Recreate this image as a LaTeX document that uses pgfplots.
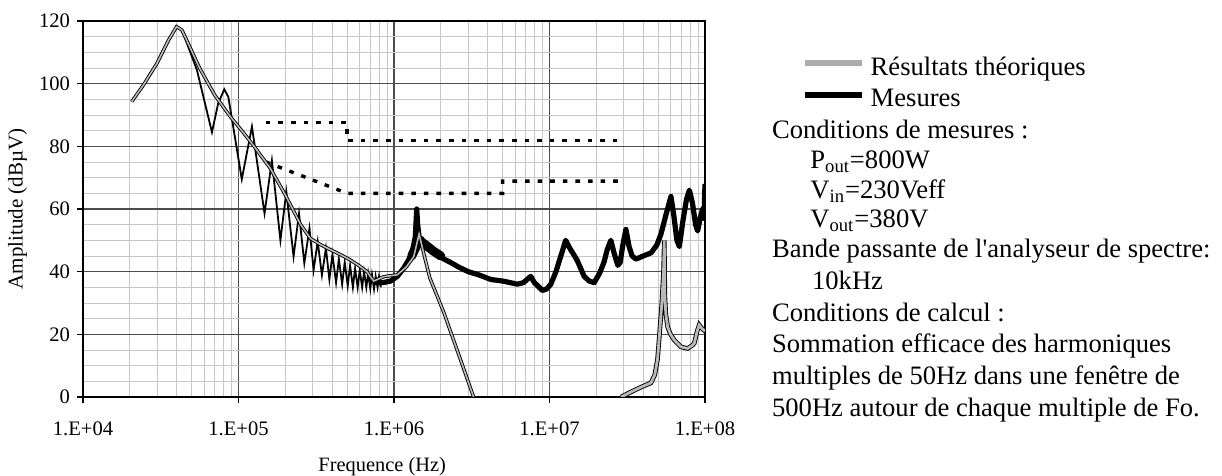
\documentclass[border=0pt]{standalone}
\usepackage{pgfplots}
\pgfplotsset{compat=1.18}
\usepackage{fontspec}
\setmainfont{Liberation Serif}
\begin{document}
\begin{tikzpicture}[txt/.style={anchor=base west, inner sep=0pt, font=\fontsize{13.3}{15.4}\selectfont}]
\path[use as bounding box] (-41.5pt,-39.5pt) rectangle (569.5pt,198.5pt);
\begin{axis}[
  at={(0pt,0pt)}, anchor=south west,
  scale only axis, width=311pt, height=188pt,
  xmode=log, xmin=1e4, xmax=1e8, ymin=0, ymax=120,
  xtick={1e4,1e5,1e6,1e7,1e8},
  xticklabels={1.E+04,1.E+05,1.E+06,1.E+07,1.E+08},
  minor xtick={2e4,3e4,4e4,5e4,6e4,7e4,8e4,9e4,2e5,3e5,4e5,5e5,6e5,7e5,8e5,9e5,2e6,3e6,4e6,5e6,6e6,7e6,8e6,9e6,2e7,3e7,4e7,5e7,6e7,7e7,8e7,9e7},
  ytick={0,20,...,120},
  minor ytick={5,10,15,25,30,35,45,50,55,65,70,75,85,90,95,105,110,115},
  grid=both,
  major grid style={black!70, line width=0.75pt},
  minor grid style={black!22, line width=0.35pt},
  axis line style={black, line width=1.2pt},
  tick pos=left, tick align=outside,
  major tick length=3pt, minor tick length=0pt,
  tick style={black, line width=0.7pt},
  /pgf/number format/assume math mode=true,
  tick label style={font=\fontsize{10.3}{12}\selectfont},
  xticklabel style={yshift=-6pt},
  xlabel={Frequence (Hz)},
  ylabel={Amplitude (dBµV)},
  xlabel style={font=\fontsize{10.2}{12}\selectfont, at={(axis description cs:0.481,-0.185)}, anchor=center},
  ylabel style={font=\fontsize{10.5}{12}\selectfont, at={(axis description cs:-0.105,0.5)}, anchor=center},
  legend style={draw=none, fill=none, inner sep=0pt, outer sep=0pt,
    at={(axis description cs:1.1555,0.912)}, anchor=north west,
    row sep=0pt, font=\fontsize{13.3}{15.4}\selectfont,
    nodes={inner sep=0pt, text height=10.5pt, text depth=5.35pt},
    /tikz/every odd column/.append style={column sep=3pt}},
  legend cell align=left,
]
\addlegendimage{legend image code/.code={\draw[gray!65, line width=2.8pt] (0pt,3.4pt) -- (28.7pt,3.4pt);}}
\addlegendentry{Résultats théoriques}
\addlegendimage{legend image code/.code={\draw[black, line width=2.8pt] (0pt,3.4pt) -- (28.7pt,3.4pt);}}
\addlegendentry{Mesures}

% Limits (dotted)
\addplot[forget plot, black, line width=1.7pt, dash pattern=on 2.3pt off 4pt] coordinates {
(1.5e5,87.7) (5.0e5,87.7) (5.0e5,81.8) (3.0e7,81.8)};
\addplot[forget plot, black, line width=1.7pt, dash pattern=on 2.3pt off 4pt] coordinates {
(1.5e5,75) (5.0e5,65) (5.0e6,65) (5.0e6,68.9) (3.0e7,68.9)};

% Measurement, low-frequency harmonics
\addplot[forget plot, black, line width=0.9pt] coordinates {
(2.06e4,94.3) (2.45e4,99.6) (2.99e4,106.5) (3.55e4,113.9) (4.0e4,118.2) (4.33e4,117.1)
(5.4e4,104.4) (6.75e4,84.5) (7.4e4,93.7) (8.1e4,98.2) (8.6e4,95.8) (1.05e5,69.5)
(1.22e5,86.3) (1.47e5,58.6) (1.64e5,75.5) (1.86e5,50) (2.03e5,65.5) (2.26e5,44.8)
(2.45e5,58.6) (2.65e5,42.7) (2.86e5,53.8) (3.04e5,40.5) (3.23e5,49.6) (3.44e5,38.9)
(3.65e5,47.5) (3.84e5,37.5) (4.02e5,45.5) (4.24e5,36.5) (4.42e5,44) (4.64e5,36)
(4.82e5,43) (5.04e5,35.5) (5.22e5,42) (5.44e5,35) (5.62e5,41) (5.84e5,35)
(6.02e5,40.5) (6.24e5,35) (6.42e5,40) (6.64e5,35) (6.82e5,39.5) (7.04e5,34.5)
(7.22e5,39) (7.44e5,34.5) (7.62e5,38.5) (7.84e5,35) (8.02e5,38.5) (8.24e5,35)};

% Measurement, broadband part
\addplot[forget plot, black, line width=2.6pt, line join=round] coordinates {
(7.5e5,36.5) (8.5e5,36.5) (9.5e5,37) (1.05e6,38.5) (1.15e6,41) (1.25e6,44) (1.32e6,47)
(1.37e6,51) (1.39e6,57) (1.40e6,60) (1.42e6,55) (1.45e6,51) (1.5e6,50.5) (1.6e6,49)
(1.75e6,47) (1.9e6,45.5) (2.1e6,44) (2.3e6,43) (2.6e6,41.5) (3.0e6,40) (3.5e6,39)
(4.2e6,37.5) (5.0e6,37) (5.6e6,36.5) (6.2e6,36) (6.8e6,36.5) (7.57e6,38.5) (8.0e6,36.5)
(9.0e6,34) (9.6e6,34.5) (1.02e7,36) (1.1e7,40) (1.2e7,46) (1.27e7,50) (1.35e7,47.5)
(1.45e7,45) (1.51e7,43.5) (1.67e7,38.5) (1.8e7,37) (1.94e7,36.5) (2.1e7,39.5) (2.24e7,43)
(2.35e7,47) (2.48e7,50) (2.6e7,46) (2.75e7,42) (2.85e7,43) (2.95e7,48) (3.1e7,53.5)
(3.25e7,48) (3.4e7,45) (3.6e7,44) (4.0e7,45) (4.5e7,46) (4.9e7,48.5) (5.21e7,52)
(5.6e7,58) (6.04e7,64) (6.3e7,58) (6.6e7,50) (6.84e7,48) (7.2e7,56) (7.6e7,63)
(7.93e7,66) (8.3e7,62) (8.7e7,55) (8.97e7,53) (9.3e7,57) (9.66e7,60) (9.85e7,57) (1e8,68)};
% thicker noise blob after the 1.4 MHz peak
\addplot[forget plot, black, line width=4.5pt, line join=round, line cap=round] coordinates {
(1.3e6,45) (1.45e6,50) (1.6e6,48.5) (1.8e6,46.5) (2.0e6,45)};

% Theory
\addplot[forget plot, black, line width=0.45pt, double=gray!55, double distance=0.8pt] coordinates {
(2.06e4,94.3) (2.45e4,99.6) (2.99e4,106.5) (3.55e4,113.9) (4.0e4,118.2) (4.33e4,117.1)
(5.62e4,105) (7.0e4,96.5) (8.85e4,89.5) (1.05e5,85) (1.26e5,80) (1.6e5,73) (2.0e5,64.5)
(2.51e5,55) (2.9e5,50.6) (3.4e5,48.5) (3.9e5,47) (4.5e5,45.5) (5.25e5,43.7) (6.0e5,41.8)
(6.7e5,40) (7.4e5,37) (8.6e5,38.4) (1.05e6,39) (1.2e6,41.5) (1.34e6,44.8) (1.45e6,52)
(1.55e6,46) (1.7e6,38) (2.09e6,27) (2.63e6,13) (3.25e6,0)};
\addplot[forget plot, black, line width=0.45pt, double=gray!55, double distance=1.4pt] coordinates {
(2.88e7,0) (3.4e7,1.8) (3.9e7,3.2) (4.49e7,4.5) (4.75e7,7) (4.95e7,12) (5.08e7,19)
(5.28e7,30) (5.42e7,41) (5.47e7,50) (5.5e7,40) (5.52e7,32) (5.6e7,26.5) (5.75e7,22.4)
(6.0e7,20) (6.34e7,18.2) (7.0e7,16) (7.73e7,15.5) (8.3e7,16.5) (8.53e7,17.1) (8.9e7,21)
(9.18e7,23) (9.5e7,22) (1e8,21)};
\end{axis}
\node[txt] at (344.35pt,129.35pt) {Conditions de mesures :};
\node[txt] at (363.5pt,114.35pt) {P\textsubscript{out}=800W};
\node[txt] at (363.5pt,99.35pt) {V\textsubscript{in}=230Veff};
\node[txt] at (363.5pt,84.75pt) {V\textsubscript{out}=380V};
\node[txt] at (344.35pt,69.5pt) {Bande passante de l\textquotesingle analyseur de spectre:};
\node[txt] at (364.35pt,53.5pt) {10kHz};
\node[txt] at (344.35pt,37.65pt) {Conditions de calcul :};
\node[txt] at (344.35pt,22pt) {Sommation efficace des harmoniques};
\node[txt] at (344.35pt,6pt) {multiples de 50Hz dans une fenêtre de};
\node[txt] at (344.35pt,-9.85pt) {500Hz autour de chaque multiple de Fo.};
\end{tikzpicture}
\end{document}
